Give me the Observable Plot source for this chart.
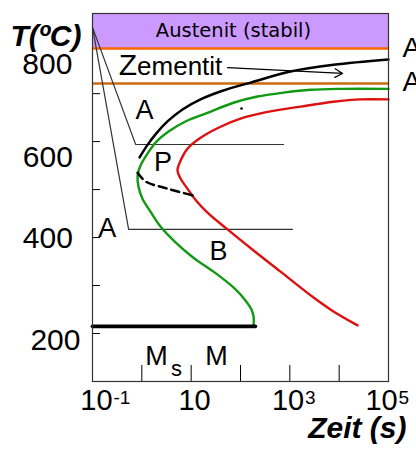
<!DOCTYPE html>
<html><head><meta charset="utf-8">
<script src="https://cdn.jsdelivr.net/npm/d3@7"></script>
<script src="https://cdn.jsdelivr.net/npm/@observablehq/plot@0.6"></script>
<style>body{margin:0;background:#fff}</style>
</head><body><div id="chart"></div>
<script>
// ---- data (time in s, temperature in °C) ----
const timeDomain = [0.1, 100000];
const tempDomain = [100, 867];

const austenitBand = [794, 867];
const lineAcm = 794;
const lineA1 = 721;

const psTime = [0.90, 1.245, 1.89, 3.31, 6.67, 15.5, 43.2, 160, 1030, 7670, 100000];
const psTemp = [567, 590, 615, 642, 667, 688, 706, 723, 746, 760, 771];

const dashTime = [0.82, 1.19, 3.31, 10.6];
const dashTemp = [535, 517, 502, 488];

const startTime = [100000, 10600, 2620, 745, 221, 72, 21.4, 7.67, 3.48, 1.98, 1.30, 0.94, 0.82, 0.856, 1.03, 1.50, 2.39, 4.82, 11.1, 28.4, 72, 126, 167, 184, 184];
const startTemp = [710, 710, 708, 702, 694, 681, 660, 642, 621, 600, 575, 550, 529, 506, 481, 454, 423, 390, 358, 329, 296, 269, 250, 235, 215];

const endTime = [100000, 27100, 7670, 1650, 353, 100, 39.4, 15.5, 8.4, 6.08, 5.28, 6.08, 8.4, 12.2, 21.4, 54.6, 184, 647, 3020, 7670, 23600];
const endTemp = [688, 688, 683, 673, 662, 648, 631, 608, 585, 560, 540, 523, 502, 479, 452, 417, 373, 329, 275, 246, 217];

const path1Time = [0.1, 0.75, 745];
const path1Temp = [838, 594, 594];
const path2Time = [0.1, 0.54, 1130];
const path2Temp = [838, 417, 417];

const msTime = [0.1, 200];
const msTemp = [215, 215];

const arrowFrom = [54.6, 754];
const arrowTo = [11700, 742];

const dotTime = [105, 10.6];
const dotTemp = [669, 488];

const yTickValues = [700, 600, 500, 400, 300, 200];
const xTickValues = [1, 10, 100, 1000, 10000];

const yTickLabels = ["800", "600", "400", "200"];
const yTickLabelTemp = [760, 567, 398, 185];
const yTickLabelTime = [0.039, 0.040, 0.040, 0.057];

const xTickBase = ["10", "10", "10", "10"];
const xTickSup = ["-1", "", "3", "5"];
const xTickLabelTime = [0.1205, 11.7, 919, 72300];

const regionLabels = ["A", "P", "A", "B", "M", "M"];
const regionTime = [1.13, 2.68, 0.20, 35.8, 1.98, 32.7];
const regionTemp = [665, 556, 420, 371, 152, 152];

const FONT = "Liberation Sans, Arial, Helvetica, sans-serif";
const zip = (ts, Ts) => ts.map((t, i) => ({t, T: Ts[i]}));

const chart = Plot.plot({
  width: 416, height: 455,
  marginLeft: 92, marginRight: 28, marginTop: 13, marginBottom: 74,
  x: {type: "log", domain: timeDomain, axis: null},
  y: {domain: tempDomain, axis: null},
  style: {fontFamily: FONT, background: "#fff", color: "#000"},
  marks: [
    Plot.rect([{x1: timeDomain[0], x2: timeDomain[1], y1: austenitBand[0], y2: austenitBand[1]}],
      {x1: "x1", x2: "x2", y1: "y1", y2: "y2", fill: "#cc99ff"}),
    Plot.ruleY([lineAcm], {stroke: "#ff6600", strokeWidth: 2.5}),
    Plot.ruleY([lineA1], {stroke: "#cc6a10", strokeWidth: 2.5}),
    Plot.line(zip(path1Time, path1Temp), {x: "t", y: "T", stroke: "#333", strokeWidth: 1.2}),
    Plot.line(zip(path2Time, path2Temp), {x: "t", y: "T", stroke: "#333", strokeWidth: 1.2}),
    Plot.line(zip(startTime, startTemp), {x: "t", y: "T", stroke: "#119911", strokeWidth: 2.4, curve: "catmull-rom"}),
    Plot.line(zip(endTime, endTemp), {x: "t", y: "T", stroke: "#dd1111", strokeWidth: 2.4, curve: "catmull-rom"}),
    Plot.line(zip(psTime, psTemp), {x: "t", y: "T", stroke: "#000", strokeWidth: 2.5, curve: "catmull-rom"}),
    Plot.line(zip(dashTime, dashTemp), {x: "t", y: "T", stroke: "#000", strokeWidth: 2.5, strokeDasharray: "8,5", curve: "catmull-rom"}),
    Plot.line(zip(msTime, msTemp), {x: "t", y: "T", stroke: "#000", strokeWidth: 3.8}),
    Plot.arrow([{x1: arrowFrom[0], y1: arrowFrom[1], x2: arrowTo[0], y2: arrowTo[1]}],
      {x1: "x1", y1: "y1", x2: "x2", y2: "y2", stroke: "#000", strokeWidth: 1.3, headLength: 10}),
    Plot.dot(zip(dotTime, dotTemp), {x: "t", y: "T", r: 1.3, fill: "#000"}),
    Plot.tickY(yTickValues, {y: d => d, insetRight: 288, stroke: "#000", strokeWidth: 1}),
    Plot.tickX(xTickValues, {x: d => d, insetTop: 352, stroke: "#000", strokeWidth: 1}),
    Plot.frame({stroke: "#333", strokeWidth: 1.2}),
    // axis tick labels
    Plot.text(yTickLabels.map((s, i) => ({s, t: yTickLabelTime[i], T: yTickLabelTemp[i]})),
      {x: "t", y: "T", text: "s", textAnchor: "end", fontSize: 30, fill: "#000"}),
    Plot.text(xTickBase.map((s, i) => ({s, t: xTickLabelTime[i]})),
      {x: "t", text: "s", frameAnchor: "bottom", dy: 28, fontSize: 29, fill: "#000"}),
    Plot.text(xTickSup.map((s, i) => ({s, t: xTickLabelTime[i]})),
      {x: "t", text: "s", frameAnchor: "bottom", dx: 17, dy: 22, textAnchor: "start", fontSize: 19, fill: "#000"}),
    // axis titles
    Plot.text(["T(ºC)"], {frameAnchor: "top-left", dx: -82, dy: 11, textAnchor: "start", fontSize: 30, fontWeight: "bold", fontStyle: "italic", fill: "#000"}),
    Plot.text(["Zeit (s)"], {frameAnchor: "bottom-right", dx: 18, dy: 56, textAnchor: "end", fontSize: 30, fontWeight: "bold", fontStyle: "italic", fill: "#000"}),
    // annotations
    Plot.text(["Austenit (stabil)"], {x: 72, y: 831, fontSize: 19.5, fontFamily: "DejaVu Sans, sans-serif", fill: "#000"}),
    Plot.text(["Z"], {x: 0.52, y: 758, fontSize: 30, fill: "#000"}),
    Plot.text(["ementit"], {x: 0.80, y: 756, textAnchor: "start", fontSize: 26, fill: "#000"}),
    Plot.text(["A", "A"], {y: [794, 725], frameAnchor: "right", dx: 14, textAnchor: "start", fontSize: 28, fill: "#000"}),
    Plot.text(regionLabels.map((s, i) => ({s, t: regionTime[i], T: regionTemp[i]})),
      {x: "t", y: "T", text: "s", fontSize: 27, fill: "#000"}),
    Plot.text(["s"], {x: 5.05, y: 127, fontSize: 22, fill: "#000"})
  ]
});
document.getElementById("chart").append(chart);
</script></body></html>
